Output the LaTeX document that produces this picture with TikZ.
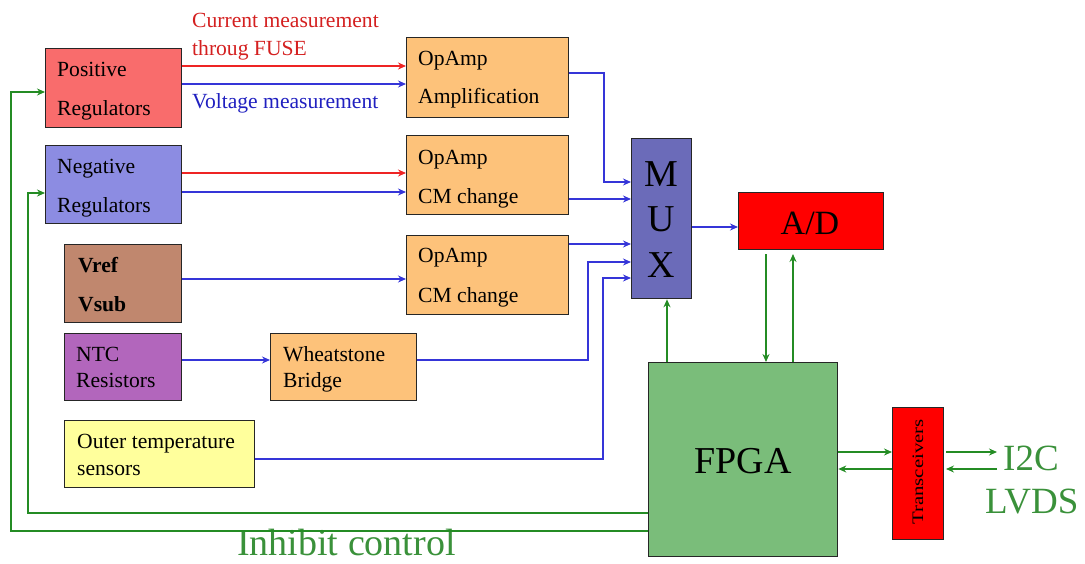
\documentclass[tikz,border=0pt]{standalone}
\usepackage{fontspec}
\setmainfont{Liberation Serif}
\usetikzlibrary{arrows.meta}
\definecolor{posfill}{HTML}{F96C6C}
\definecolor{negfill}{HTML}{8C8CE2}
\definecolor{reffill}{HTML}{C0876E}
\definecolor{ntcfill}{HTML}{B266BC}
\definecolor{ampfill}{HTML}{FDC27A}
\definecolor{tmpfill}{HTML}{FFFF9C}
\definecolor{muxfill}{HTML}{6B6BB9}
\definecolor{adfill}{HTML}{FF0000}
\definecolor{fpgafill}{HTML}{7ABD7A}
\definecolor{lineblue}{HTML}{3535D8}
\definecolor{linered}{HTML}{EE2424}
\definecolor{linegreen}{HTML}{248C24}
\definecolor{textgreen}{HTML}{3A913A}
\definecolor{textred}{HTML}{D42020}
\definecolor{textblue}{HTML}{2020C0}
\begin{document}
\begin{tikzpicture}[x=1pt,y=-1pt,
  box/.style={draw=black!85, line width=1.3pt, anchor=north west, inner sep=0pt},
  txt/.style={anchor=base west, inner sep=0pt, font=\fontsize{21.6}{25}\selectfont},
  big/.style={anchor=base, inner sep=0pt, font=\fontsize{38}{44}\selectfont},
  tip/.style={-{Stealth[length=8pt,width=7pt]}},
  bluew/.style={draw=lineblue, line width=1.2pt, tip},
  redw/.style={draw=linered, line width=1.2pt, tip},
  greenw/.style={draw=linegreen, line width=1.2pt, tip}]
\useasboundingbox (0,0) rectangle (1085,563);

% ---- blocks ----
\node[box, fill=posfill, minimum width=136pt, minimum height=79pt] (pos) at (45,48) {};
\node[box, fill=negfill, minimum width=136pt, minimum height=78pt] (neg) at (45,145) {};
\node[box, fill=reffill, minimum width=117pt, minimum height=78pt] (ref) at (64,244) {};
\node[box, fill=ntcfill, minimum width=117pt, minimum height=67pt] (ntc) at (64,333) {};
\node[box, fill=tmpfill, minimum width=190pt, minimum height=67pt] (outer) at (64,420) {};
\node[box, fill=ampfill, minimum width=146pt, minimum height=67pt] (wheat) at (270,333) {};
\node[box, fill=ampfill, minimum width=162pt, minimum height=80pt] (amp) at (406,37) {};
\node[box, fill=ampfill, minimum width=162pt, minimum height=79pt] (cma) at (406,135) {};
\node[box, fill=ampfill, minimum width=162pt, minimum height=79pt] (cmb) at (406,235) {};
\node[box, fill=muxfill, minimum width=60pt, minimum height=160pt] (mux) at (631,138) {};
\node[box, fill=adfill, minimum width=145pt, minimum height=57pt] (ad) at (738,192) {};
\node[box, fill=fpgafill, minimum width=189pt, minimum height=194pt] (fpga) at (648,362) {};
\node[box, fill=adfill, minimum width=51pt, minimum height=132pt] (trans) at (892,407) {};

% ---- block texts ----
\node[txt] at (57,76) {Positive};
\node[txt] at (57,115) {Regulators};
\node[txt] at (57,173) {Negative};
\node[txt] at (57,212) {Regulators};
\node[txt, font=\fontsize{21.6}{25}\selectfont\bfseries] at (78,272) {Vref};
\node[txt, font=\fontsize{21.6}{25}\selectfont\bfseries] at (78,311) {Vsub};
\node[txt] at (76,361) {NTC};
\node[txt] at (76,387) {Resistors};
\node[txt] at (283,361) {Wheatstone};
\node[txt] at (283,387) {Bridge};
\node[txt] at (77,448) {Outer temperature};
\node[txt] at (77,475) {sensors};
\node[txt] at (418,65) {OpAmp};
\node[txt] at (418,103) {Amplification};
\node[txt] at (418,164) {OpAmp};
\node[txt] at (418,203) {CM change};
\node[txt] at (418,262) {OpAmp};
\node[txt] at (418,302) {CM change};
\node[big] at (661,186) {M};
\node[big] at (661,231) {U};
\node[big] at (661,277) {X};
\node[big, font=\fontsize{34}{40}\selectfont] at (810,234) {A/D};
\node[big] at (743,473) {FPGA};
\node[inner sep=0pt, rotate=90] at (918,472)
  {\scalebox{1.3}[1]{\fontsize{16}{18}\selectfont Transceivers}};

% ---- free labels ----
\node[txt, text=textred] at (192,27) {Current measurement};
\node[txt, text=textred] at (192,55) {throug FUSE};
\node[txt, text=textblue] at (192,108) {Voltage measurement};
\node[txt, text=textgreen, font=\fontsize{37}{44}\selectfont] (io) at (1003,470) {I2C};
\node[txt, text=textgreen, font=\fontsize{37}{44}\selectfont] at (985,513) {LVDS};
\node[txt, text=textgreen, font=\fontsize{38}{44}\selectfont] at (237,555) {Inhibit control};

% ---- signal paths ----
\draw[redw]  (pos.east |- 0,66) -- (amp.west |- 0,66);
\draw[bluew] (pos.east |- 0,84) -- (amp.west |- 0,84);
\draw[redw]  (neg.east |- 0,173) -- (cma.west |- 0,173);
\draw[bluew] (neg.east |- 0,192) -- (cma.west |- 0,192);
\draw[bluew] (ref.east |- 0,279) -- (cmb.west |- 0,279);
\draw[bluew] (ntc.east |- 0,360) -- (wheat.west |- 0,360);

\draw[bluew] (amp.east |- 0,73) -| (604,182) -- (mux.west |- 0,182);
\draw[bluew] (cma.east |- 0,199) -- (mux.west |- 0,199);
\draw[bluew] (cmb.east |- 0,244) -- (mux.west |- 0,244);
\draw[bluew] (wheat.east |- 0,360) -| (588,262) -- (mux.west |- 0,262);
\draw[bluew] (outer.east |- 0,459) -| (603,278) -- (mux.west |- 0,278);
\draw[bluew] (mux.east |- 0,227) -- (ad.west |- 0,227);

% ---- control paths ----
\coordinate (adin) at (766,254);
\coordinate (adout) at (793,254);
\draw[greenw] (fpga.north -| 667,0) -- (mux.south -| 667,0);
\draw[greenw] (adin) -- (fpga.north -| adin);
\draw[greenw] (fpga.north -| adout) -- (adout);
\draw[greenw] (fpga.east |- 0,452) -- (trans.west |- 0,452);
\draw[greenw] (trans.west |- 0,469) -- (fpga.east |- 0,469);
\coordinate (busout) at (997,452);
\coordinate (busin) at (997,469);
\draw[greenw] (946,452) -- (busout);
\draw[greenw] (busin) -- (946,469);
\draw[greenw] (fpga.west |- 0,531) -| (11,92) -- (pos.west |- 0,92);
\draw[greenw] (fpga.west |- 0,513) -| (28,193) -- (neg.west |- 0,193);
\end{tikzpicture}
\end{document}
